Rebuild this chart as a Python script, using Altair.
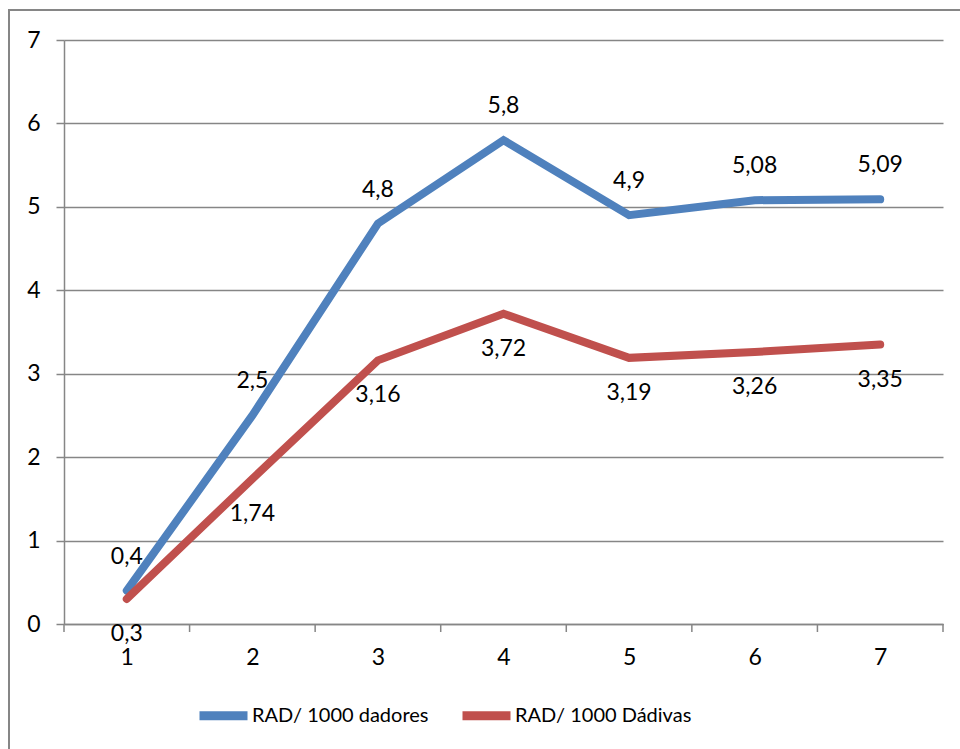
import altair as alt
import pandas as pd

# Rate per 1000, by period
periods = [1, 2, 3, 4, 5, 6, 7]
dadores = [0.4, 2.5, 4.8, 5.8, 4.9, 5.08, 5.09]
dadivas = [0.3, 1.74, 3.16, 3.72, 3.19, 3.26, 3.35]
series_names = ["RAD/ 1000 dadores", "RAD/ 1000 Dádivas"]
series_colors = ["#4F81BD", "#C0504D"]
y_ticks = [0, 1, 2, 3, 4, 5, 6, 7]
category_edges = [0.5, 1.5, 2.5, 3.5, 4.5, 5.5, 6.5, 7.5]

FONT = "Lato"
GREY = "#868686"
NUM_SIZE = 23


def pt_label(v):
    return f"{v:g}".replace(".", ",")


rows = []
for name, values in zip(series_names, [dadores, dadivas]):
    for p, v in zip(periods, values):
        rows.append({"period": p, "value": v, "series": name, "label": pt_label(v)})
df = pd.DataFrame(rows)
edges = pd.DataFrame({"edge": category_edges})
frame = pd.DataFrame({"k": [0]})

x_scale = alt.Scale(domain=[0.5, 7.5], nice=False, zero=False)
y_scale = alt.Scale(domain=[0, 7], nice=False)
color_scale = alt.Scale(domain=series_names, range=series_colors)

x_axis = alt.Axis(
    values=periods, format="d", ticks=False, grid=False, title=None,
    domainColor=GREY, domainWidth=1.5, labelFontSize=NUM_SIZE, labelFont=FONT,
    labelColor="black", labelPadding=22,
)

lines = alt.Chart(df).mark_line(
    strokeWidth=8, strokeCap="round", strokeJoin="miter"
).encode(
    x=alt.X("period:Q", scale=x_scale, axis=x_axis),
    y=alt.Y(
        "value:Q",
        scale=y_scale,
        axis=alt.Axis(
            values=y_ticks, format="d", grid=True, gridColor=GREY, gridWidth=1.5,
            tickColor=GREY, tickWidth=1.5, tickSize=8, domainColor=GREY,
            domainWidth=1.5, title=None, labelFontSize=NUM_SIZE, labelFont=FONT,
            labelColor="black", labelPadding=16,
        ),
    ),
    color=alt.Color(
        "series:N",
        scale=color_scale,
        sort=series_names,
        legend=alt.Legend(
            title=None, orient="none", direction="horizontal",
            legendX=131, legendY=647, symbolType="stroke",
            symbolStrokeWidth=9, symbolSize=2304, labelFontSize=20,
            labelFont=FONT, labelColor="black", labelOffset=0,
            labelLimit=400, columnPadding=15, padding=0,
        ),
    ),
    order="period:Q",
)

labels_top = alt.Chart(df).transform_filter(
    alt.datum.series == series_names[0]
).mark_text(dy=-34, fontSize=NUM_SIZE, font=FONT, color="black", baseline="middle").encode(
    x=alt.X("period:Q", scale=x_scale, axis=x_axis), y="value:Q", text="label:N"
)

labels_bottom = alt.Chart(df).transform_filter(
    alt.datum.series == series_names[1]
).mark_text(dy=35, fontSize=NUM_SIZE, font=FONT, color="black", baseline="middle").encode(
    x=alt.X("period:Q", scale=x_scale, axis=x_axis), y="value:Q", text="label:N"
)

# category separator ticks below the x axis
cat_ticks = alt.Chart(edges).mark_rule(color=GREY, strokeWidth=1.5).encode(
    x=alt.X("edge:Q", scale=x_scale, axis=x_axis),
    y=alt.value(584),
    y2=alt.value(592),
)

# outer chart frame
outer = alt.Chart(frame).mark_rect(
    fillOpacity=0, stroke=GREY, strokeWidth=2
).encode(
    x=alt.value(-55), x2=alt.value(960), y=alt.value(-30), y2=alt.value(760)
)

chart = alt.layer(outer, lines, cat_ticks, labels_top, labels_bottom).properties(
    width=879,
    height=584,
    autosize=alt.AutoSizeParams(type="none"),
    padding={"left": 64, "top": 40, "right": 17, "bottom": 125},
).configure_view(stroke=None)

chart.save("out.html", embed_options={"renderer": "svg", "actions": False})
